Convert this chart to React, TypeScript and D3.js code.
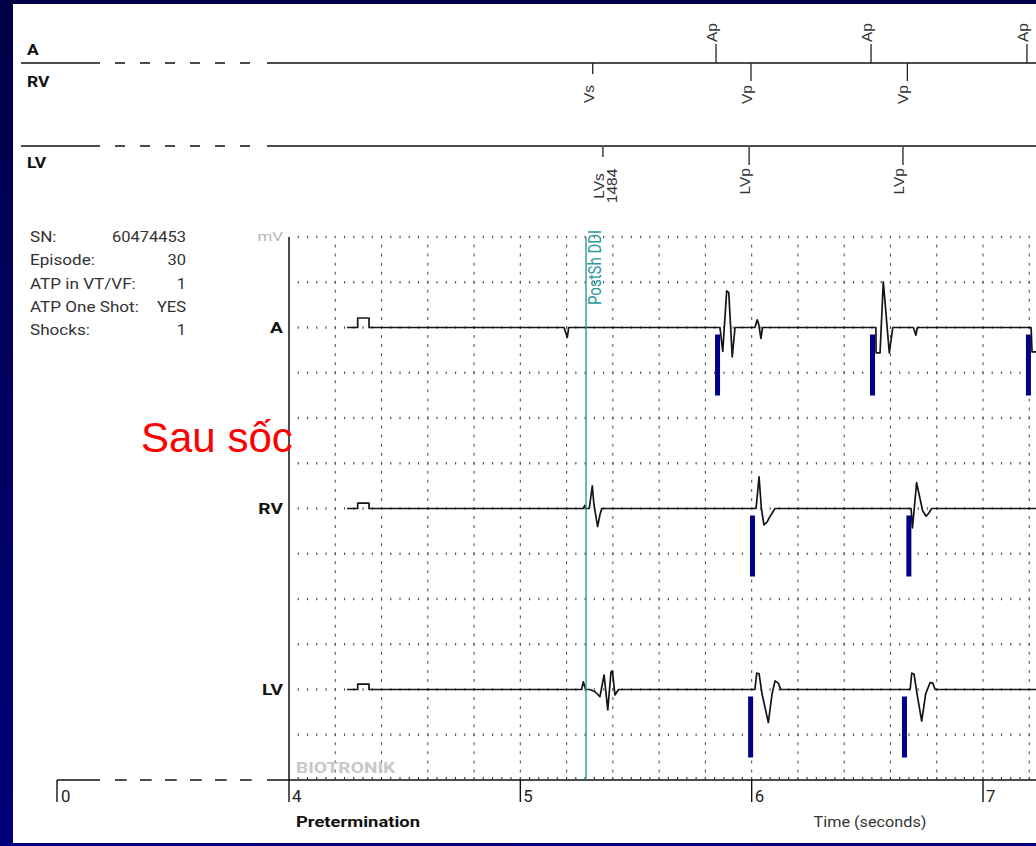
import React from 'react';
import * as d3 from 'd3';

type Pt = [number, number]; // [time s, amplitude mV]

// Electrogram samples: time (s), amplitude (mV)
const aTrace: Pt[] = [
  [4.251, 0], [4.297, 0], [4.297, 0.21], [4.346, 0.21], [4.346, 0],
  [5.189, 0], [5.203, -0.22], [5.209, 0],
  [5.863, 0], [5.875, -0.53], [5.892, 0.81], [5.901, 0.77], [5.916, -0.65], [5.928, 0],
  [6.014, 0], [6.024, 0.17], [6.03, 0.08], [6.04, -0.24], [6.047, 0],
  [6.537, 0], [6.538, -0.56], [6.555, -0.56], [6.569, 1.01], [6.595, -0.56], [6.61, 0],
  [6.699, 0], [6.71, -0.17], [6.716, 0],
  [7.208, 0], [7.212, -0.54], [7.235, -0.54],
];

const rvTrace: Pt[] = [
  [4.251, 0], [4.297, 0], [4.297, 0.12], [4.346, 0.12], [4.346, 0],
  [5.272, 0], [5.279, 0.07], [5.284, 0], [5.298, 0], [5.311, 0.5], [5.318, 0.1], [5.334, -0.4], [5.345, -0.12], [5.352, 0],
  [6.019, 0], [6.032, 0.7], [6.042, 0], [6.053, -0.36], [6.066, -0.3], [6.079, -0.18], [6.101, 0],
  [6.689, 0], [6.695, -0.43], [6.713, 0.57], [6.739, -0.05], [6.754, -0.17], [6.766, -0.1], [6.778, 0],
  [7.235, 0],
];

const lvTrace: Pt[] = [
  [4.251, 0], [4.297, 0], [4.297, 0.12], [4.346, 0.12], [4.346, 0],
  [5.265, 0], [5.272, 0.17], [5.283, 0], [5.301, 0], [5.323, -0.05], [5.344, -0.16], [5.362, 0.32],
  [5.378, -0.45], [5.392, 0.39], [5.398, 0.41], [5.409, -0.12], [5.424, 0],
  [6.014, 0], [6.022, 0.36], [6.032, 0.35], [6.045, -0.1], [6.072, -0.73], [6.088, -0.1], [6.101, 0.19], [6.115, 0.14], [6.126, 0],
  [6.685, 0], [6.692, 0.36], [6.702, 0.34], [6.715, -0.1], [6.735, -0.7], [6.752, -0.1], [6.771, 0.15], [6.783, 0.14], [6.793, 0],
  [7.235, 0],
];

// Pacing pulses (s)
const aPaceTimes = [5.846, 6.516, 7.19];
const rvPaceTimes = [5.997, 6.673];
const lvPaceTimes = [5.989, 6.654];

// Marker channel annotations
const aMarkers = [
  { t: 5.846, label: ['Ap'], paced: true },
  { t: 6.516, label: ['Ap'], paced: true },
  { t: 7.19, label: ['Ap'], paced: true },
];
const rvMarkers = [
  { t: 5.313, label: ['Vs'], paced: false },
  { t: 5.997, label: ['Vp'], paced: true },
  { t: 6.673, label: ['Vp'], paced: true },
];
const lvMarkers = [
  { t: 5.357, label: ['LVs', '1484'], paced: false },
  { t: 5.989, label: ['LVp'], paced: true },
  { t: 6.654, label: ['LVp'], paced: true },
];

const postShockTime = 5.284;
const postShockLabel = 'PostSh DDI';

const timeTicks = [4, 5, 6, 7];
const infoLabels = ['SN:', 'Episode:', 'ATP in VT/VF:', 'ATP One Shot:', 'Shocks:'];
const infoValues = ['60474453', '30', '1', 'YES', '1'];

const W = 1036;
const H = 846;
const FONT = 'Roboto, "DejaVu Sans", sans-serif';
const MFONT = '"Liberation Sans", Arial, sans-serif';
const NAVY = '#00008b';

function SText(props: {
  x: number; y: number; sx?: number; anchor?: string; size: number;
  weight?: string | number; fill?: string; family?: string; children: React.ReactNode;
}) {
  const { x, y, sx = 1.25, anchor = 'start', size, weight = 'normal', fill = '#222', family = FONT, children } = props;
  return (
    <text transform={`translate(${x},${y}) scale(${sx},1)`} textAnchor={anchor}
      fontSize={size} fontWeight={weight} fill={fill} fontFamily={family}>
      {children}
    </text>
  );
}

function VText(props: {
  x: number; y: number; anchor: string; size: number; fill: string; family: string; sx?: number; children: React.ReactNode;
}) {
  const { x, y, anchor, size, fill, family, sx = 1, children } = props;
  return (
    <text transform={`translate(${x},${y}) scale(${sx},1) rotate(-90)`} textAnchor={anchor}
      fontSize={size} fill={fill} fontFamily={family}>
      {children}
    </text>
  );
}

// Solid / dashed / solid rule used for the time break between 0 and 4 s
function BrokenRule({ y, x0, dash }: { y: number; x0: number; dash: string }) {
  return (
    <g stroke="#111" strokeWidth={1.4}>
      <line x1={x0} x2={100} y1={y} y2={y} />
      <line x1={115} x2={255} y1={y} y2={y} strokeDasharray={dash} />
      <line x1={267} x2={W} y1={y} y2={y} />
    </g>
  );
}

export default function App() {
  const x = d3.scaleLinear().domain([4, 7]).range([289, 983]);
  const yRow = d3.scaleLinear().domain([0, 12]).range([237, 780]);
  const tEnd = x.invert(W);
  const minorStep = x(4.04) - x(4);
  const rowStep = yRow(1) - yRow(0);
  const vGrid = d3.range(1, 17).map((k) => 4 + k * 0.2);
  const hGrid = d3.range(0, 12);

  const channels = [
    { name: 'A', row: 2, trace: aTrace, paces: aPaceTimes },
    { name: 'RV', row: 6, trace: rvTrace, paces: rvPaceTimes },
    { name: 'LV', row: 10, trace: lvTrace, paces: lvPaceTimes },
  ];

  const yMarkA = 63;
  const yMarkLV = 146;
  const axisY = yRow(12);

  return (
    <svg width={W} height={H} style={{ position: 'absolute', left: 0, top: 0, display: 'block' }}>
      <defs>
        <linearGradient id="frameGrad" x1="0" y1="0" x2="0" y2="1">
          <stop offset="0" stopColor="#000048" />
          <stop offset="1" stopColor="#00007a" />
        </linearGradient>
      </defs>
      <rect x={0} y={0} width={W} height={H} fill="url(#frameGrad)" />
      <rect x={13} y={4} width={W - 13} height={839} fill="#fff" />

      {/* Marker channel */}
      <SText x={27} y={55} size={14} weight="bold" fill="#111">A</SText>
      <SText x={27} y={87} size={14} weight="bold" fill="#111">RV</SText>
      <SText x={27} y={168} size={14} weight="bold" fill="#111">LV</SText>
      <BrokenRule y={yMarkA} x0={21} dash="10 15" />
      <BrokenRule y={yMarkLV} x0={21} dash="10 15" />

      <g stroke="#222" strokeWidth={1.3}>
        {aMarkers.map((m, i) => (
          <line key={'am' + i} x1={x(m.t)} x2={x(m.t)} y1={yMarkA} y2={yMarkA - (m.paced ? 19 : 11)} />
        ))}
        {rvMarkers.map((m, i) => (
          <line key={'rm' + i} x1={x(m.t)} x2={x(m.t)} y1={yMarkA} y2={yMarkA + (m.paced ? 18 : 11)} />
        ))}
        {lvMarkers.map((m, i) => (
          <line key={'lm' + i} x1={x(m.t)} x2={x(m.t)} y1={yMarkLV + 1} y2={yMarkLV + (m.paced ? 19 : 11)} />
        ))}
      </g>
      {aMarkers.map((m, i) => (
        <VText key={'al' + i} x={x(m.t) + 1} y={42} anchor="start" size={15.5} fill="#333" family={MFONT}>{m.label[0]}</VText>
      ))}
      {rvMarkers.map((m, i) => (
        <VText key={'rl' + i} x={x(m.t) + 1} y={85} anchor="end" size={15.5} fill="#333" family={MFONT}>{m.label[0]}</VText>
      ))}
      {lvMarkers.map((m, i) =>
        m.label.length > 1
          ? m.label.map((s, j) => (
              <VText key={'ll' + i + j} x={x(m.t) + 1 + j * 13.5} y={186} anchor="middle" size={15.5} fill="#333" family={MFONT}>{s}</VText>
            ))
          : <VText key={'ll' + i} x={x(m.t) + 1} y={168} anchor="end" size={15.5} fill="#333" family={MFONT}>{m.label[0]}</VText>
      )}

      {/* Episode information */}
      {infoLabels.map((s, i) => (
        <SText key={'il' + i} x={30} y={242 + i * 23.25} size={15} sx={1.14} fill="#333">{s}</SText>
      ))}
      {infoValues.map((s, i) => (
        <SText key={'iv' + i} x={186} y={242 + i * 23.25} size={15} sx={1.1} anchor="end" fill="#333">{s}</SText>
      ))}

      {/* Grid */}
      <g stroke="#5a5a5a">
        {hGrid.map((r) => (
          <line key={'h' + r} x1={x(4.04) - 0.6} x2={W} y1={yRow(r)} y2={yRow(r)}
            strokeWidth={2.4} strokeDasharray={`1.2 ${minorStep - 1.2}`} />
        ))}
        {vGrid.map((t) => (
          <line key={'v' + t} x1={x(t)} x2={x(t)} y1={yRow(0) + rowStep / 5 - 1.5} y2={axisY}
            strokeWidth={1.1} strokeDasharray={`3 ${rowStep / 5 - 3}`} />
        ))}
      </g>
      <SText x={283} y={241} size={13.5} anchor="end" fill="#b5b5b5">mV</SText>
      <SText x={296} y={773} size={15} sx={1.28} weight="bold" fill="#c8c8c8">BIOTRONIK</SText>

      {/* Time axis */}
      <BrokenRule y={axisY} x0={57} dash="11.7 13.3" />
      <line x1={x(4.04) - 0.6} x2={W} y1={axisY - 1.5} y2={axisY - 1.5} stroke="#333" strokeWidth={3}
        strokeDasharray={`1.1 ${minorStep - 1.1}`} />
      <line x1={x(4)} x2={x(4)} y1={yRow(0)} y2={axisY} stroke="#111" strokeWidth={1.5} />
      <line x1={57} x2={57} y1={axisY} y2={axisY + 22} stroke="#111" strokeWidth={1.4} />
      <SText x={61} y={802} size={16} sx={1.05} fill="#222">0</SText>
      {timeTicks.map((t) => (
        <g key={'tt' + t}>
          <line x1={x(t)} x2={x(t)} y1={axisY} y2={axisY + 22} stroke="#111" strokeWidth={1.4} />
          <SText x={x(t) + 3} y={802} size={16} sx={1.05} fill="#222">{String(t)}</SText>
        </g>
      ))}
      <SText x={296} y={827} size={14.5} sx={1.27} weight="bold" fill="#111">Pretermination</SText>
      <SText x={870} y={827} size={14.5} sx={1.12} anchor="middle" fill="#333">Time (seconds)</SText>

      {/* Channels */}
      {channels.map((c) => {
        const yC = (v: number) => yRow(c.row - v);
        const line = d3.line<Pt>().x((d) => x(d[0])).y((d) => yC(d[1]));
        const base = yRow(c.row);
        return (
          <g key={c.name}>
            <SText x={283} y={base + 5.5} size={15} sx={1.28} weight="bold" anchor="end" fill="#111">{c.name}</SText>
            <path d={line(c.trace.filter((d) => d[0] <= tEnd + 0.01)) || ''} fill="none" stroke="#151515"
              strokeWidth={1.7} strokeLinejoin="round" />
            {c.paces.map((t, i) => (
              <rect key={i} x={x(t) - 1} y={base + 7} width={5} height={61} fill={NAVY} />
            ))}
          </g>
        );
      })}

      {/* Post-shock mode change */}
      <line x1={x(postShockTime)} x2={x(postShockTime)} y1={yRow(0)} y2={axisY} stroke="#2a9a9a" strokeWidth={1.4} />
      <VText x={601} y={305} anchor="start" size={15} sx={1.2} fill="#2a9a9a" family={FONT}>{postShockLabel}</VText>

      <text x={141} y={452} fontSize={42} fill="#ff0000" fontFamily={MFONT}>Sau sốc</text>
    </svg>
  );
}
